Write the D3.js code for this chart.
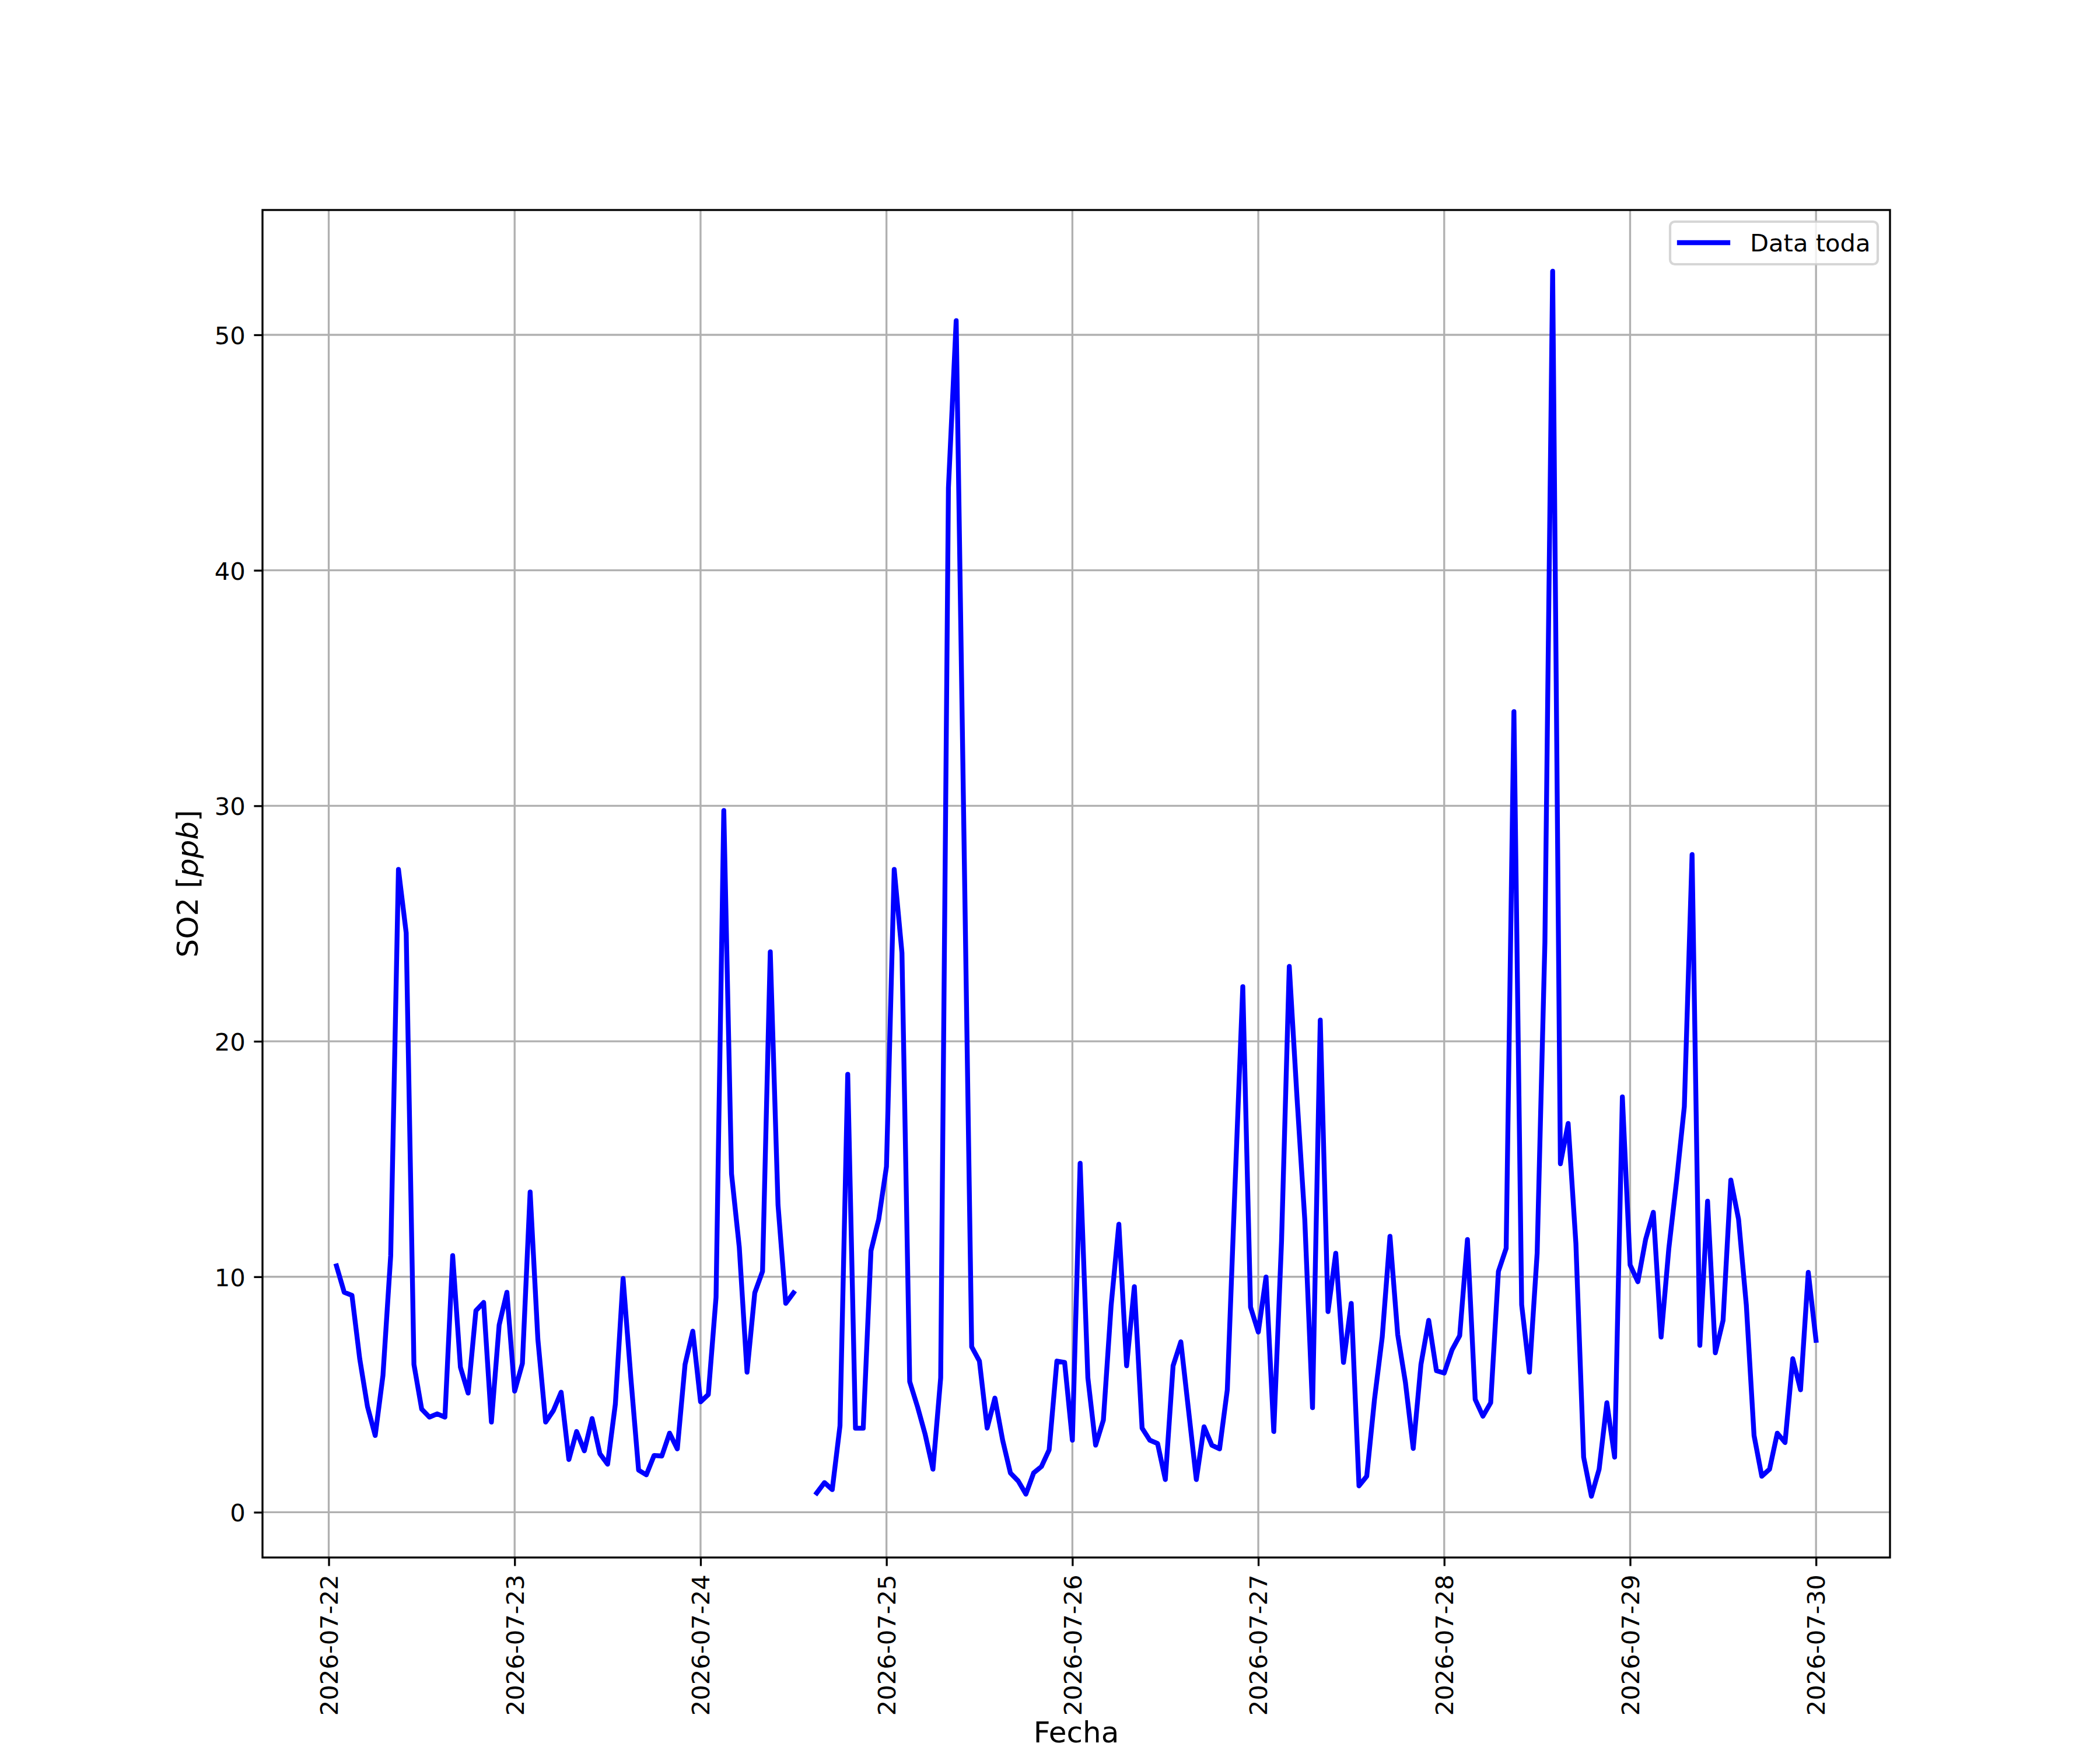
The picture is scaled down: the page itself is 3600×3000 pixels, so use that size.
<!DOCTYPE html>
<html><head><meta charset="utf-8">
<script src="https://cdn.jsdelivr.net/npm/d3@7"></script>
<style>
body{margin:0;background:#fff}
svg{display:block}
text{font-family:"DejaVu Sans",sans-serif;fill:#000}
</style>
</head><body>
<svg id="chart" width="3600" height="3000"></svg>
<script>
// ---- data (hourly SO2, ppb) ----
const days = ["2026-07-22","2026-07-23","2026-07-24","2026-07-25","2026-07-26","2026-07-27","2026-07-28","2026-07-29","2026-07-30"];
const firstHour = [1,0,0,0,0,0,0,0,0];
const v0722 = [10.46,9.34,9.21,6.52,4.49,3.26,5.81,10.9,27.3,24.6,6.28,4.38,4.04,4.18,4.04,10.9,6.16,5.06,8.56,8.91,3.83,7.95,9.34];
const v0723 = [5.14,6.32,13.6,7.34,3.83,4.32,5.10,2.24,3.43,2.61,3.98,2.49,2.04,4.59,9.93,5.71,1.79,1.59,2.41,2.39,3.36,2.69,6.28,7.69];
const v0724 = [4.69,5.0,9.13,29.8,14.37,11.25,5.95,9.32,10.23,23.8,13.05,8.87,9.32,null,null,0.82,1.26,0.96,3.67,18.6,3.57,3.57,11.1,12.44];
const v0725 = [14.68,27.3,23.75,5.55,4.49,3.30,1.83,5.71,43.5,50.6,28.8,7.03,6.42,3.57,4.85,3.06,1.67,1.33,0.77,1.67,1.94,2.65,6.42,6.36];
const v0726 = [3.06,14.82,5.71,2.85,3.91,8.77,12.23,6.22,9.58,3.57,3.06,2.92,1.39,6.22,7.24,4.32,1.39,3.63,2.85,2.69,5.20,13.9,22.32,8.71];
const v0727 = [7.65,9.99,3.43,11.5,23.18,17.6,12.44,4.44,20.9,8.52,11.0,6.36,8.87,1.12,1.53,4.79,7.44,11.72,7.54,5.50,2.71,6.28,8.15,6.01];
const v0728 = [5.91,6.89,7.50,11.58,4.79,4.08,4.65,10.23,11.21,34.0,8.81,5.95,11.0,24.2,52.7,14.8,16.51,11.42,2.34,0.68,1.83,4.65,2.34,17.64];
const v0729 = [10.5,9.79,11.58,12.74,7.44,11.21,14.07,17.23,27.93,7.09,13.21,6.77,8.15,14.11,12.44,8.81,3.26,1.53,1.83,3.36,2.96,6.52,5.20,10.19];
const v0730 = [7.30];
const dayValues = [v0722,v0723,v0724,v0725,v0726,v0727,v0728,v0729,v0730];
const yTicks = [0,10,20,30,40,50];
const seriesName = "Data toda";
const xLabel = "Fecha";

// ---- build records ----
const parseDay = d3.timeParse("%Y-%m-%d");
const records = [];
dayValues.forEach((vals, i) => {
  const base = parseDay(days[i]);
  vals.forEach((v, j) => {
    records.push({t: d3.timeHour.offset(base, firstHour[i] + j), v: v});
  });
});

// ---- layout ----
const W = 3600, H = 3000;
const L = 450, R = 3240, T = 360, B = 2670;
const svg = d3.select("#chart");
const fs = 41.67;

const tExt = d3.extent(records, d => d.t);
const tPad = (tExt[1] - tExt[0]) * 0.05;
const x = d3.scaleTime()
  .domain([new Date(+tExt[0] - tPad), new Date(+tExt[1] + tPad)])
  .range([L, R]);
const vExt = d3.extent(records.filter(d => d.v != null), d => d.v);
const vPad = (vExt[1] - vExt[0]) * 0.05;
const y = d3.scaleLinear().domain([vExt[0] - vPad, vExt[1] + vPad]).range([B, T]);

const xTicks = days.map(parseDay);

// grid
const grid = svg.append("g");
grid.selectAll("line.gx").data(xTicks).join("line")
  .attr("x1", d => x(d)).attr("x2", d => x(d)).attr("y1", T).attr("y2", B)
  .attr("stroke", "#b0b0b0").attr("stroke-width", 3.33);
grid.selectAll("line.gy").data(yTicks).join("line")
  .attr("y1", d => y(d)).attr("y2", d => y(d)).attr("x1", L).attr("x2", R)
  .attr("stroke", "#b0b0b0").attr("stroke-width", 3.33);

// line
svg.append("clipPath").attr("id", "clip").append("rect")
  .attr("x", L).attr("y", T).attr("width", R - L).attr("height", B - T);
const line = d3.line().defined(d => d.v != null).x(d => x(d.t)).y(d => y(d.v));
svg.append("path").datum(records)
  .attr("clip-path", "url(#clip)")
  .attr("d", line).attr("fill", "none").attr("stroke", "#0000ff")
  .attr("stroke-width", 8.33).attr("stroke-linejoin", "round").attr("stroke-linecap", "square");

// axes
const xAxis = d3.axisBottom(x).tickValues(xTicks).tickFormat(d3.timeFormat("%Y-%m-%d"))
  .tickSize(14.6).tickPadding(14.6);
const gx = svg.append("g").attr("transform", `translate(0,${B})`).call(xAxis);
gx.select(".domain").remove();
gx.selectAll(".tick line").attr("stroke", "#000").attr("stroke-width", 3.33);
gx.selectAll(".tick text")
  .attr("font-size", fs).attr("font-family", "DejaVu Sans")
  .attr("text-anchor", "end")
  .attr("transform", "rotate(-90)")
  .attr("x", -29.2).attr("y", 0).attr("dy", "0.355em");

const yAxis = d3.axisLeft(y).tickValues(yTicks).tickFormat(d3.format("d"))
  .tickSize(14.6).tickPadding(14.6);
const gy = svg.append("g").attr("transform", `translate(${L},0)`).call(yAxis);
gy.select(".domain").remove();
gy.selectAll(".tick line").attr("stroke", "#000").attr("stroke-width", 3.33);
gy.selectAll(".tick text").attr("font-size", fs).attr("font-family", "DejaVu Sans").attr("dy", "0.37em");

// spines
svg.append("rect").attr("x", L).attr("y", T).attr("width", R - L).attr("height", B - T)
  .attr("fill", "none").attr("stroke", "#000").attr("stroke-width", 3.33);

// axis labels
svg.append("text").attr("x", (L + R) / 2).attr("y", 2987)
  .attr("text-anchor", "middle").attr("font-size", 50).text(xLabel);
const yl = svg.append("text").attr("transform", `translate(339,${(T + B) / 2}) rotate(-90)`)
  .attr("text-anchor", "middle").attr("font-size", 50);
yl.append("tspan").text("SO2 [");
yl.append("tspan").attr("font-style", "italic").text("ppb");
yl.append("tspan").text("]");

// legend
const lg = svg.append("g");
lg.append("rect").attr("x", 2863).attr("y", 380).attr("width", 356).attr("height", 73)
  .attr("rx", 8).attr("fill", "#fff").attr("fill-opacity", 0.8)
  .attr("stroke", "#cccccc").attr("stroke-opacity", 0.8).attr("stroke-width", 4.17);
lg.append("line").attr("x1", 2879).attr("x2", 2962).attr("y1", 416).attr("y2", 416)
  .attr("stroke", "#0000ff").attr("stroke-width", 8.33).attr("stroke-linecap", "square");
lg.append("text").attr("x", 3000).attr("y", 431).attr("font-size", fs).text(seriesName);
</script>
</body></html>
